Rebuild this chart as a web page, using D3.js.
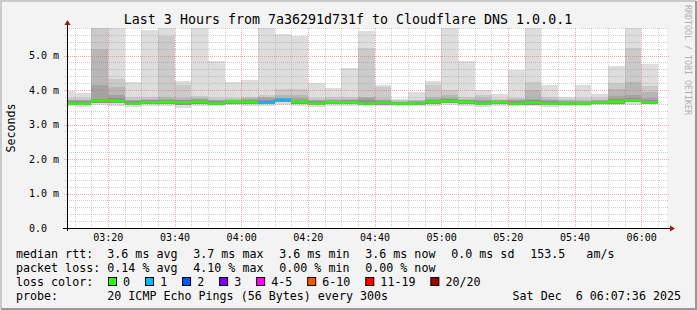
<!DOCTYPE html>
<html>
<head>
<meta charset="utf-8">
<script src="https://cdn.jsdelivr.net/npm/d3@7"></script>
<style>
  body { margin: 0; background: #f3f3f3; }
  svg { display: block; }
  text { font-family: 'DejaVu Sans Mono', monospace; white-space: pre; }
</style>
</head>
<body>
<svg id="chart" width="697" height="310"></svg>
<script>
// 5 minute bins, 03:05 .. 06:00 (start of each bin)
const firstBin = new Date(2025, 11, 6, 3, 5);
const binCount = 36;

// sorted ping times (ms) per bin: top pings, median, low pings
const p20 = [3.97, 3.92, 5.9, 5.9, 4.23, 5.74, 5.9, 4.26, 5.9, 4.83, 4.23, 4.3, 5.9, 5.63, 5.57, 4.21, 4.07, 4.64,
  5.7, 4.15, 3.75, 3.95, 4.26, 5.9, 4.83, 3.99, 3.9, 4.57, 5.9, 4.15, 3.8, 4.15, 3.9, 4.69, 5.9, 4.76];
const p19 = [3.78, 3.78, 5.9, 4.33, 3.8, 3.8, 5.58, 4.16, 3.82, 3.76, 3.78, 3.8, 3.85, 4.04, 4.02, 3.76, 3.8, 3.8,
  5.22, 4.09, 3.7, 3.72, 4.16, 3.99, 3.8, 3.85, 3.74, 3.76, 4.23, 3.8, 3.74, 3.76, 3.76, 4.2, 5.21, 4.13];
const p18 = [3.72, 3.72, 5.19, 4.09, 3.72, 3.74, 3.8, 3.76, 3.78, 3.72, 3.73, 3.76, 3.8, 3.85, 3.87, 3.72, 3.74, 3.74,
  3.8, 3.74, 3.68, 3.7, 3.8, 3.85, 3.75, 3.76, 3.72, 3.74, 4.0, 3.74, 3.7, 3.72, 3.72, 4.04, 4.23, 3.95];
const p17 = [3.7, 3.7, 4.16, 3.87, 3.7, 3.72, 3.74, 3.72, 3.74, 3.7, 3.7, 3.74, 3.76, 3.76, 3.78, 3.7, 3.7, 3.72,
  3.76, 3.7, 3.66, 3.68, 3.74, 3.78, 3.72, 3.72, 3.7, 3.7, 3.74, 3.7, 3.68, 3.68, 3.7, 3.82, 3.85, 3.76];
const p16 = [3.68, 3.68, 3.74, 3.76, 3.68, 3.7, 3.72, 3.7, 3.7, 3.68, 3.68, 3.72, 3.72, 3.74, 3.72, 3.68, 3.68, 3.7,
  3.72, 3.68, 3.64, 3.66, 3.7, 3.74, 3.7, 3.68, 3.68, 3.68, 3.7, 3.68, 3.66, 3.66, 3.68, 3.74, 3.76, 3.72];
const median = [3.6, 3.6, 3.68, 3.68, 3.6, 3.64, 3.65, 3.64, 3.65, 3.6, 3.66, 3.65, 3.64, 3.71, 3.66, 3.6, 3.64, 3.64,
  3.6, 3.62, 3.6, 3.6, 3.66, 3.68, 3.65, 3.6, 3.64, 3.6, 3.63, 3.6, 3.6, 3.6, 3.64, 3.66, 3.7, 3.64];
const pLow = [3.57, 3.57, 3.62, 3.62, 3.56, 3.6, 3.6, 3.58, 3.6, 3.56, 3.6, 3.6, 3.6, 3.64, 3.6, 3.56, 3.6, 3.6,
  3.56, 3.58, 3.57, 3.56, 3.6, 3.62, 3.6, 3.56, 3.6, 3.56, 3.58, 3.56, 3.57, 3.56, 3.6, 3.6, 3.64, 3.6];
const pMin = [3.53, 3.52, 3.57, 3.55, 3.52, 3.53, 3.55, 3.47, 3.55, 3.53, 3.56, 3.55, 3.55, 3.58, 3.55, 3.52, 3.55, 3.55,
  3.54, 3.53, 3.55, 3.54, 3.55, 3.56, 3.55, 3.52, 3.55, 3.53, 3.53, 3.52, 3.55, 3.54, 3.56, 3.56, 3.58, 3.6];
const lossCount = [0, 0, 0, 0, 0, 0, 0, 0, 0, 0, 0, 0, 1, 1, 0, 0, 0, 0,
  0, 0, 0, 0, 0, 0, 0, 0, 0, 0, 0, 0, 0, 0, 0, 0, 0, 0];

const lossLabels = ['0', '1', '2', '3', '4-5', '6-10', '11-19', '20/20'];
const lossColors = ['#26ff00', '#00b8ff', '#0059ff', '#7e00ff', '#ff00ff', '#ff5500', '#ff0000', '#a00000'];

const legendRows = [
  ['median rtt:', '3.6 ms avg', '3.7 ms max', '3.6 ms min', '3.6 ms now', '0.0 ms sd', '153.5   am/s'],
  ['packet loss:', '0.14 % avg', '4.10 % max', '0.00 % min', '0.00 % now']
];
const probeText = '20 ICMP Echo Pings (56 Bytes) every 300s';
const stampText = 'Sat Dec  6 06:07:36 2025';
const title = 'Last 3 Hours from 7a36291d731f to Cloudflare DNS 1.0.0.1';

const W = 697, H = 310;
const pLeft = 67, pRight = 667, pTop = 28, pBottom = 228;

// keep runs of spaces as they are
const keepSpaces = s => s.replace(/ /g, '\u00a0');

const x = d3.scaleTime()
  .domain([new Date(2025, 11, 6, 3, 7, 45), new Date(2025, 11, 6, 6, 7, 45)])
  .range([pLeft, pRight]);
const y = d3.scaleLinear()
  .domain([0, 5.8])
  .range([pBottom, pTop]);

const bins = d3.range(binCount).map(i => ({
  i,
  t0: d3.timeMinute.offset(firstBin, 5 * i),
  t1: d3.timeMinute.offset(firstBin, 5 * i + 5)
}));

const svg = d3.select('#chart');

// background + 3d frame
svg.append('rect').attr('width', W).attr('height', H).attr('fill', '#f3f3f3');
svg.append('path').attr('d', `M1,${H - 1}V1H${W - 1}`).attr('fill', 'none')
  .attr('stroke', '#cbcbcb').attr('stroke-width', 2);
svg.append('path').attr('d', `M1,${H - 1}H${W - 1}V1`).attr('fill', 'none')
  .attr('stroke', '#999999').attr('stroke-width', 2);

// canvas
svg.append('rect')
  .attr('x', pLeft).attr('y', pTop)
  .attr('width', pRight - pLeft).attr('height', pBottom - pTop)
  .attr('fill', '#ffffff');

svg.append('clipPath').attr('id', 'plot-clip')
  .append('rect')
  .attr('x', pLeft).attr('y', pTop)
  .attr('width', pRight - pLeft).attr('height', pBottom - pTop);

const plot = svg.append('g').attr('clip-path', 'url(#plot-clip)');

// smoke: nested bands, lighter outside, darker inside
const bands = [
  {hi: p20, lo: pMin, color: '#dddddd'},
  {hi: p19, lo: pLow, color: '#cacaca'},
  {hi: p18, lo: pLow, color: '#b7b7b7'},
  {hi: p17, lo: pLow, color: '#a4a4a4'},
  {hi: p16, lo: pLow, color: '#919191'}
];
bands.forEach(b => {
  plot.append('g').selectAll('rect')
    .data(bins)
    .join('rect')
    .attr('x', d => x(d.t0))
    .attr('width', d => x(d.t1) - x(d.t0))
    .attr('y', d => y(b.hi[d.i]))
    .attr('height', d => y(b.lo[d.i]) - y(b.hi[d.i]))
    .attr('fill', b.color)
    .attr('shape-rendering', 'crispEdges');
});

// median, coloured by loss
plot.append('g').selectAll('rect')
  .data(bins)
  .join('rect')
  .attr('x', d => x(d.t0))
  .attr('width', d => x(d.t1) - x(d.t0))
  .attr('y', d => y(median[d.i]) - 1.5)
  .attr('height', 2.5)
  .attr('fill', d => lossColors[lossCount[d.i]]);

// grid (drawn over the smoke, like rrdtool)
const grid = svg.append('g');
const minorY = y.ticks(29);
const majorY = y.ticks(6);
const minorX = d3.timeMinute.every(5).range(...x.domain());
const majorX = d3.timeMinute.every(20).range(...x.domain());

grid.selectAll('.ygm').data(minorY.filter(v => !majorY.some(m => Math.abs(m - v) < 1e-6) && v > 0))
  .join('line')
  .attr('x1', pLeft - 2).attr('x2', pRight + 2)
  .attr('y1', d => Math.round(y(d)) + 0.5).attr('y2', d => Math.round(y(d)) + 0.5)
  .attr('stroke', 'rgba(150,150,150,0.45)').attr('stroke-dasharray', '1,1');
grid.selectAll('.xgm').data(minorX.filter(t => t.getMinutes() % 20 !== 0))
  .join('line')
  .attr('x1', d => Math.round(x(d)) + 0.5).attr('x2', d => Math.round(x(d)) + 0.5)
  .attr('y1', pTop).attr('y2', pBottom)
  .attr('stroke', 'rgba(150,150,150,0.45)').attr('stroke-dasharray', '1,1');
grid.selectAll('.ygM').data(majorY.filter(v => v > 0))
  .join('line')
  .attr('x1', pLeft - 3).attr('x2', pRight + 2)
  .attr('y1', d => Math.round(y(d)) + 0.5).attr('y2', d => Math.round(y(d)) + 0.5)
  .attr('stroke', 'rgba(240,90,90,0.5)').attr('stroke-dasharray', '1,1');
grid.selectAll('.xgM').data(majorX)
  .join('line')
  .attr('x1', d => Math.round(x(d)) + 0.5).attr('x2', d => Math.round(x(d)) + 0.5)
  .attr('y1', pTop).attr('y2', pBottom + 2)
  .attr('stroke', 'rgba(240,90,90,0.5)').attr('stroke-dasharray', '1,1');

// axes lines + arrows
const arrowColor = '#8b1a1a';
svg.append('line')
  .attr('x1', pLeft - 4).attr('x2', pRight + 3)
  .attr('y1', pBottom + 0.5).attr('y2', pBottom + 0.5)
  .attr('stroke', '#000');
svg.append('line')
  .attr('x1', pLeft + 0.5).attr('x2', pLeft + 0.5)
  .attr('y1', pBottom + 3).attr('y2', pTop - 5)
  .attr('stroke', '#000');
svg.append('path')
  .attr('d', `M${pRight + 3},${pBottom - 2.5}L${pRight + 8},${pBottom + 0.5}L${pRight + 3},${pBottom + 3.5}Z`)
  .attr('fill', arrowColor);
svg.append('path')
  .attr('d', `M${pLeft - 2.5},${pTop - 3}L${pLeft + 0.5},${pTop - 8}L${pLeft + 3.5},${pTop - 3}Z`)
  .attr('fill', arrowColor);

// tick labels
svg.append('g').selectAll('text')
  .data(majorY)
  .join('text')
  .attr('x', 29)
  .attr('y', d => y(d) + 3.5)
  .attr('font-size', '10px')
  .attr('fill', '#000')
  .text(d => d === 0 ? '0.0' : keepSpaces(d3.format('.1f')(d) + ' m'));

svg.append('g').selectAll('text')
  .data(majorX)
  .join('text')
  .attr('x', d => x(d) + 0.5)
  .attr('y', 241)
  .attr('text-anchor', 'middle')
  .attr('font-size', '10px')
  .attr('fill', '#000')
  .text(d => d3.timeFormat('%H:%M')(d));

// title, y label, watermark
svg.append('text')
  .attr('x', 348).attr('y', 23.5)
  .attr('text-anchor', 'middle')
  .attr('font-size', '13.3px')
  .attr('fill', '#000')
  .text(title);
svg.append('text')
  .attr('transform', `translate(14.5, ${(pTop + pBottom) / 2}) rotate(-90)`)
  .attr('text-anchor', 'middle')
  .attr('font-size', '11.67px')
  .attr('fill', '#000')
  .text('Seconds');
svg.append('text')
  .attr('transform', 'translate(685, 5) rotate(90)')
  .attr('font-size', '8.3px')
  .attr('fill', '#b0b0b0')
  .text('RRDTOOL / TOBI OETIKER');

// legend
const legend = svg.append('g')
  .attr('font-size', '11.67px')
  .attr('fill', '#000');
const col1 = 107.3, gap = 15.8;

legendRows.forEach((row, r) => {
  let cx = col1;
  row.forEach((s, k) => {
    const t = legend.append('text')
      .attr('x', k === 0 ? 16 : cx)
      .attr('y', 258 + 14 * r)
      .text(keepSpaces(s));
    if (k > 0) cx += t.node().getComputedTextLength() + gap;
  });
});

legend.append('text').attr('x', 16).attr('y', 286).text(keepSpaces('loss color:'));
let bx = 108.5;
lossLabels.forEach((lab, k) => {
  legend.append('rect')
    .attr('x', bx).attr('y', 277.5)
    .attr('width', 8).attr('height', 8)
    .attr('fill', lossColors[k])
    .attr('stroke', '#000');
  const t = legend.append('text')
    .attr('x', bx + 14.6).attr('y', 286)
    .text(lab);
  bx += 30 + t.node().getComputedTextLength();
});

legend.append('text').attr('x', 16).attr('y', 300).text('probe:');
legend.append('text').attr('x', col1).attr('y', 300).text(keepSpaces(probeText));
legend.append('text').attr('x', 681).attr('y', 300)
  .attr('text-anchor', 'end')
  .text(keepSpaces(stampText));
</script>
</body>
</html>
